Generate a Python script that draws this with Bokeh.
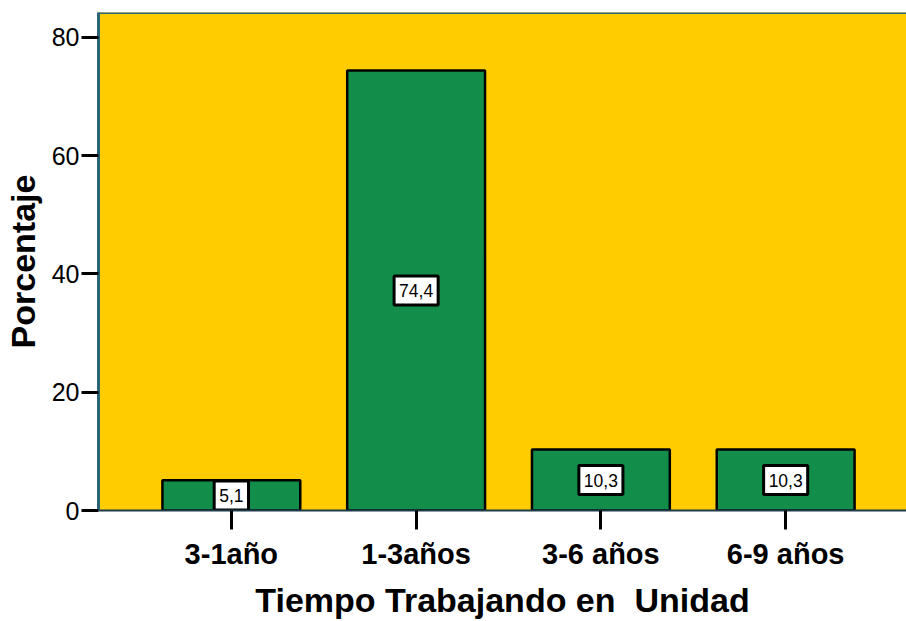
from bokeh.plotting import figure
from bokeh.models import Range1d, FixedTicker, ColumnDataSource, Span
from bokeh.core.properties import value
from bokeh.embed import file_html
from bokeh.resources import INLINE

categories = ["3-1año", "1-3años", "3-6 años", "6-9 años"]
percentages = [5.1, 74.4, 10.3, 10.3]
label_texts = ["5,1", "74,4", "10,3", "10,3"]
y_ticks = [0, 20, 40, 60, 80]

xs = list(range(1, len(categories) + 1))
src = ColumnDataSource(dict(
    x=xs,
    top=percentages,
    mid=[v / 2 for v in percentages],
    txt=label_texts,
))

FONT = "Liberation Sans"

p = figure(width=906, height=621, output_backend="svg", toolbar_location=None,
           x_range=Range1d(0.281, 4.654), y_range=Range1d(0, 84.2),
           min_border_left=97, min_border_right=0, min_border_top=12, min_border_bottom=111)
p.background_fill_color = "#FFCC00"
p.border_fill_color = "white"
p.outline_line_color = None
p.grid.grid_line_color = None

p.vbar(x="x", top="top", width=0.746, source=src, fill_color="#138D4A",
       line_color="black", line_width=2.5)

p.text(x="x", y="mid", text="txt", source=src, text_align="center",
       text_baseline="middle", text_font=value(FONT), text_font_size="17.5px",
       text_color="black", background_fill_color="white",
       border_line_color="black", border_line_width=3,
       padding=dict(left=5, right=5, top=8, bottom=8))

p.add_layout(Span(location=84.2, dimension="width", line_color="#2A6478", line_width=3))

# x axis
xa = p.xaxis[0]
xa.ticker = FixedTicker(ticks=xs)
xa.major_label_overrides = {x: c for x, c in zip(xs, categories)}
xa.axis_label = "Tiempo Trabajando en \u00a0Unidad"
xa.axis_label_text_font = FONT
xa.axis_label_text_font_style = "bold"
xa.axis_label_text_font_size = "34px"
xa.axis_label_text_color = "black"
xa.axis_label_standoff = 8
xa.major_label_text_font = FONT
xa.major_label_text_font_style = "bold"
xa.major_label_text_font_size = "29px"
xa.major_label_text_color = "black"
xa.major_label_standoff = 8
xa.major_tick_in = 0
xa.major_tick_out = 19
xa.major_tick_line_width = 3
xa.major_tick_line_color = "black"
xa.minor_tick_line_color = None
xa.axis_line_color = "#1E3D4A"
xa.axis_line_width = 2

# y axis
ya = p.yaxis[0]
ya.ticker = FixedTicker(ticks=y_ticks)
ya.axis_label = "Porcentaje"
ya.axis_label_text_font = FONT
ya.axis_label_text_font_style = "bold"
ya.axis_label_text_font_size = "34px"
ya.axis_label_text_color = "black"
ya.axis_label_standoff = 7
ya.major_label_text_font = FONT
ya.major_label_text_font_size = "25px"
ya.major_label_text_color = "black"
ya.major_label_standoff = 2
ya.major_tick_in = 0
ya.major_tick_out = 17
ya.major_tick_line_width = 3
ya.major_tick_line_color = "black"
ya.minor_tick_line_color = None
ya.axis_line_color = "#2A6478"
ya.axis_line_width = 3

open("out.html", "w").write(file_html(p, INLINE))
